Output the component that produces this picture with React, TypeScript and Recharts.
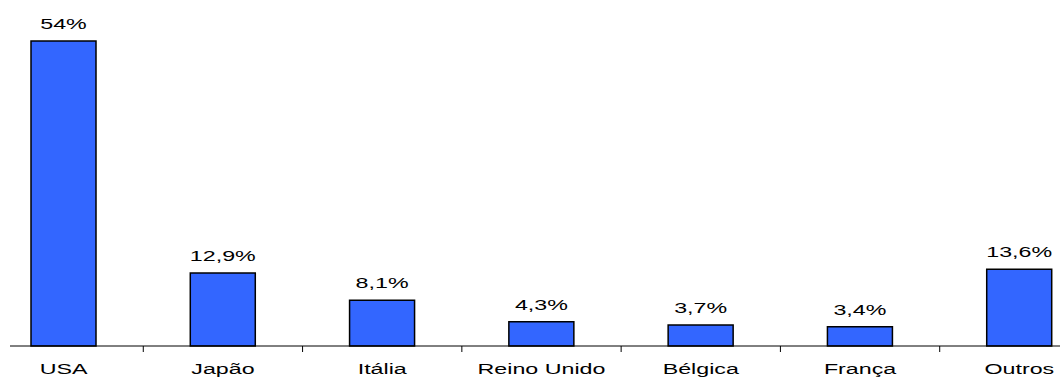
import { BarChart, Bar, XAxis, YAxis, LabelList } from 'recharts';

const paises = ['USA', 'Japão', 'Itália', 'Reino Unido', 'Bélgica', 'França', 'Outros'];
const percentuais = [54, 12.9, 8.1, 4.3, 3.7, 3.4, 13.6];

const dados = paises.map((pais, i) => ({ pais, valor: percentuais[i] }));

const FONTE = 'Liberation Sans, Arial, sans-serif';
const MEIA_BANDA = 79.65;
const ESTICA = 1.55;

function Rotulo(props: any) {
  const { x, y, payload } = props;
  const idx = paises.indexOf(payload.value);
  return (
    <g>
      {idx > 0 && (
        <line x1={x - MEIA_BANDA} x2={x - MEIA_BANDA} y1={y} y2={y + 6} stroke="#000" strokeWidth={1} />
      )}
      <text
        transform={`translate(${x},${y + 28}) scale(${ESTICA},1)`}
        textAnchor="middle"
        fontSize={15}
        fontFamily={FONTE}
        fill="#000"
      >
        {payload.value}
      </text>
    </g>
  );
}

function Valor(props: any) {
  const { x, y, width, value } = props;
  const texto = String(value).replace('.', ',') + '%';
  return (
    <text
      transform={`translate(${Number(x) + Number(width) / 2},${Number(y) - 12}) scale(${ESTICA},1)`}
      textAnchor="middle"
      fontSize={15}
      fontFamily={FONTE}
      fill="#000"
    >
      {texto}
    </text>
  );
}

export default function App() {
  return (
    <div style={{ position: 'absolute', left: 0, top: 0 }}>
      <BarChart
        width={1060}
        height={378}
        data={dados}
        margin={{ top: 7, right: 0, left: 10, bottom: 0 }}
      >
        <XAxis
          dataKey="pais"
          height={32}
          interval={0}
          padding={{ left: -26, right: -39 }}
          tickLine={false}
          tickSize={0}
          tickMargin={0}
          axisLine={{ stroke: '#000', strokeWidth: 1 }}
          tick={<Rotulo />}
        />
        <YAxis hide domain={[0, 60]} />
        <Bar
          dataKey="valor"
          fill="#3366FF"
          stroke="#000"
          strokeWidth={1.5}
          barSize={65}
          isAnimationActive={false}
        >
          <LabelList dataKey="valor" content={<Valor />} />
        </Bar>
      </BarChart>
    </div>
  );
}
